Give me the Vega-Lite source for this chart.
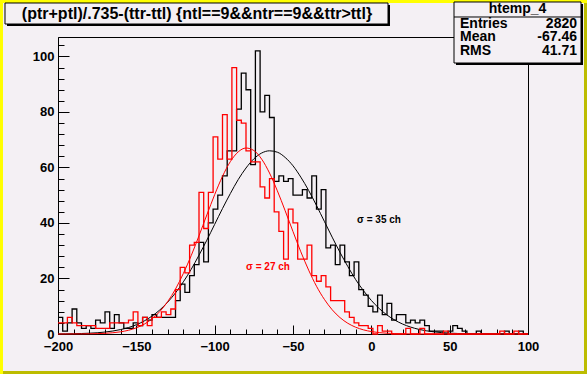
{
  "$schema": "https://vega.github.io/schema/vega-lite/v6.json",
  "width": 470,
  "height": 297,
  "autosize": {"type": "none"},
  "padding": {"left": 58, "top": 37, "right": 59, "bottom": 40},
  "background": "#f4f0f4",
  "config": {
    "view": {"stroke": "black", "strokeWidth": 1, "fill": null},
    "font": "Liberation Sans"
  },
  "datasets": {
    "hist": [
      {"x": -200, "black": 6, "red": 4}, {"x": -197, "black": 1, "red": 4}, {"x": -194, "black": 4, "red": 6}, {"x": -191, "black": 9, "red": 4},
      {"x": -188, "black": 4, "red": 3}, {"x": -185, "black": 2, "red": 3}, {"x": -182, "black": 3, "red": 3}, {"x": -179, "black": 2, "red": 3},
      {"x": -176, "black": 5, "red": 2}, {"x": -173, "black": 4, "red": 2}, {"x": -170, "black": 8, "red": 2}, {"x": -167, "black": 2, "red": 4},
      {"x": -164, "black": 7, "red": 4}, {"x": -161, "black": 4, "red": 4}, {"x": -158, "black": 2, "red": 4}, {"x": -155, "black": 2, "red": 5},
      {"x": -152, "black": 4, "red": 8}, {"x": -149, "black": 3, "red": 3}, {"x": -146, "black": 6, "red": 6}, {"x": -143, "black": 5, "red": 3},
      {"x": -140, "black": 7, "red": 6}, {"x": -137, "black": 6, "red": 6}, {"x": -134, "black": 6, "red": 8}, {"x": -131, "black": 6, "red": 7},
      {"x": -128, "black": 6, "red": 9}, {"x": -125, "black": 12, "red": 16}, {"x": -122, "black": 18, "red": 24}, {"x": -119, "black": 15, "red": 22},
      {"x": -116, "black": 21, "red": 32}, {"x": -113, "black": 25, "red": 33}, {"x": -110, "black": 33, "red": 51}, {"x": -107, "black": 26, "red": 38},
      {"x": -104, "black": 40, "red": 51}, {"x": -101, "black": 45, "red": 71}, {"x": -98, "black": 50, "red": 63}, {"x": -95, "black": 57, "red": 79},
      {"x": -92, "black": 66, "red": 63}, {"x": -89, "black": 66, "red": 96}, {"x": -86, "black": 81, "red": 77}, {"x": -83, "black": 94, "red": 76},
      {"x": -80, "black": 88, "red": 66}, {"x": -77, "black": 61, "red": 62}, {"x": -74, "black": 102, "red": 62}, {"x": -71, "black": 80, "red": 53},
      {"x": -68, "black": 86, "red": 49}, {"x": -65, "black": 78, "red": 56}, {"x": -62, "black": 55, "red": 44}, {"x": -59, "black": 57, "red": 37},
      {"x": -56, "black": 55, "red": 27}, {"x": -53, "black": 56, "red": 45}, {"x": -50, "black": 50, "red": 40}, {"x": -47, "black": 50, "red": 27},
      {"x": -44, "black": 52, "red": 27}, {"x": -41, "black": 49, "red": 32}, {"x": -38, "black": 57, "red": 21}, {"x": -35, "black": 45, "red": 19},
      {"x": -32, "black": 52, "red": 21}, {"x": -29, "black": 31, "red": 17}, {"x": -26, "black": 32, "red": 12}, {"x": -23, "black": 25, "red": 12},
      {"x": -20, "black": 32, "red": 12}, {"x": -17, "black": 26, "red": 8}, {"x": -14, "black": 21, "red": 6}, {"x": -11, "black": 26, "red": 4},
      {"x": -8, "black": 16, "red": 3}, {"x": -5, "black": 14, "red": 3}, {"x": -2, "black": 10, "red": 2}, {"x": 1, "black": 8, "red": 0},
      {"x": 4, "black": 14, "red": 3}, {"x": 7, "black": 7, "red": 1}, {"x": 10, "black": 11, "red": 1}, {"x": 13, "black": 5, "red": 0},
      {"x": 16, "black": 7, "red": 0}, {"x": 19, "black": 7, "red": 0}, {"x": 22, "black": 4, "red": 2}, {"x": 25, "black": 5, "red": 0},
      {"x": 28, "black": 4, "red": 0}, {"x": 31, "black": 5, "red": 2}, {"x": 34, "black": 3, "red": 0}, {"x": 37, "black": 1, "red": 0},
      {"x": 40, "black": 1, "red": 0}, {"x": 43, "black": 1, "red": 0}, {"x": 46, "black": 0, "red": 1}, {"x": 49, "black": 1, "red": 0},
      {"x": 52, "black": 3, "red": 0}, {"x": 55, "black": 2, "red": 0}, {"x": 58, "black": 1, "red": 0}, {"x": 61, "black": 0, "red": 0},
      {"x": 64, "black": 0, "red": 0}, {"x": 67, "black": 1, "red": 0}, {"x": 70, "black": 0, "red": 0}, {"x": 73, "black": 0, "red": 0},
      {"x": 76, "black": 0, "red": 0}, {"x": 79, "black": 0, "red": 0}, {"x": 82, "black": 0, "red": 1}, {"x": 85, "black": 1, "red": 0},
      {"x": 88, "black": 0, "red": 0}, {"x": 91, "black": 0, "red": 1}, {"x": 94, "black": 1, "red": 0}, {"x": 97, "black": 0, "red": 0},
      {"x": 100, "black": 0, "red": 0}
    ],
    "fit": [
      {"x": -200, "black": 0.04, "red": 0}, {"x": -195, "black": 0.06, "red": 0.01}, {"x": -190, "black": 0.11, "red": 0.02},
      {"x": -185, "black": 0.18, "red": 0.03}, {"x": -180, "black": 0.29, "red": 0.07}, {"x": -175, "black": 0.45, "red": 0.13},
      {"x": -170, "black": 0.7, "red": 0.24}, {"x": -165, "black": 1.07, "red": 0.45}, {"x": -160, "black": 1.6, "red": 0.79},
      {"x": -155, "black": 2.33, "red": 1.34}, {"x": -150, "black": 3.34, "red": 2.22}, {"x": -145, "black": 4.69, "red": 3.53},
      {"x": -140, "black": 6.45, "red": 5.45}, {"x": -135, "black": 8.68, "red": 8.1}, {"x": -130, "black": 11.46, "red": 11.66},
      {"x": -125, "black": 14.82, "red": 16.19}, {"x": -120, "black": 18.78, "red": 21.8}, {"x": -115, "black": 23.3, "red": 28.2},
      {"x": -110, "black": 28.4, "red": 35.4}, {"x": -105, "black": 33.8, "red": 42.9}, {"x": -100, "black": 39.5, "red": 50.2},
      {"x": -95, "black": 45.2, "red": 56.8}, {"x": -90, "black": 50.6, "red": 62.1}, {"x": -85, "black": 55.6, "red": 65.6},
      {"x": -80, "black": 59.8, "red": 67.0}, {"x": -75, "black": 63.1, "red": 66.1}, {"x": -70, "black": 65.2, "red": 63.0},
      {"x": -65, "black": 66.0, "red": 58.0}, {"x": -60, "black": 65.5, "red": 51.6}, {"x": -55, "black": 63.6, "red": 44.4},
      {"x": -50, "black": 60.6, "red": 36.9}, {"x": -45, "black": 56.5, "red": 29.6}, {"x": -40, "black": 51.7, "red": 23.0},
      {"x": -35, "black": 46.3, "red": 17.2}, {"x": -30, "black": 40.6, "red": 12.5}, {"x": -25, "black": 34.9, "red": 8.74},
      {"x": -20, "black": 29.4, "red": 5.91}, {"x": -15, "black": 24.3, "red": 3.86}, {"x": -10, "black": 19.6, "red": 2.44},
      {"x": -5, "black": 15.6, "red": 1.49}, {"x": 0, "black": 12.1, "red": 0.88}, {"x": 5, "black": 9.19, "red": 0.5},
      {"x": 10, "black": 6.85, "red": 0.28}, {"x": 15, "black": 5.0, "red": 0.15}, {"x": 20, "black": 3.58, "red": 0.08},
      {"x": 25, "black": 2.51, "red": 0.04}, {"x": 30, "black": 1.72, "red": 0.02}, {"x": 35, "black": 1.16, "red": 0.01},
      {"x": 40, "black": 0.77, "red": 0}, {"x": 45, "black": 0.49, "red": 0}, {"x": 50, "black": 0.31, "red": 0},
      {"x": 55, "black": 0.19, "red": 0}, {"x": 60, "black": 0.12, "red": 0}, {"x": 65, "black": 0.07, "red": 0},
      {"x": 70, "black": 0.04, "red": 0}, {"x": 75, "black": 0.02, "red": 0}, {"x": 80, "black": 0.01, "red": 0},
      {"x": 85, "black": 0.01, "red": 0}, {"x": 90, "black": 0, "red": 0}, {"x": 95, "black": 0, "red": 0}, {"x": 100, "black": 0, "red": 0}
    ],
    "stats": [
      {"label": "Entries", "value": "2820", "row": 111.86},
      {"label": "Mean", "value": "-67.46", "row": 106.82},
      {"label": "RMS", "value": "41.71", "row": 101.78}
    ]
  },
  "resolve": {"axis": {"x": "independent", "y": "independent"}},
  "layer": [
    {
      "data": {"values": [{}]},
      "mark": {"type": "rect", "color": "#ffff00"},
      "encoding": {
        "x": {"datum": -245, "type": "quantitative", "scale": {"domain": [-200, 100], "nice": false, "zero": false}, "axis": null},
        "x2": {"datum": -235.11},
        "y": {"datum": 130, "type": "quantitative", "scale": {"domain": [0, 107], "nice": false, "zero": false}, "axis": null},
        "y2": {"datum": -20}
      }
    },
    {
      "data": {"values": [{}]},
      "mark": {"type": "rect", "color": "#ffff00"},
      "encoding": {
        "x": {"datum": -245, "type": "quantitative", "scale": {"domain": [-200, 100], "nice": false, "zero": false}, "axis": null},
        "x2": {"datum": 140},
        "y": {"datum": 130, "type": "quantitative", "scale": {"domain": [0, 107], "nice": false, "zero": false}, "axis": null},
        "y2": {"datum": 119.25}
      }
    },
    {
      "data": {"values": [{}]},
      "mark": {"type": "rect", "color": "#bcbc00"},
      "encoding": {
        "x": {"datum": 135.74, "type": "quantitative", "scale": {"domain": [-200, 100], "nice": false, "zero": false}, "axis": null},
        "x2": {"datum": 145},
        "y": {"datum": 119.25, "type": "quantitative", "scale": {"domain": [0, 107], "nice": false, "zero": false}, "axis": null},
        "y2": {"datum": -20}
      }
    },
    {
      "data": {"values": [{}]},
      "mark": {"type": "rect", "color": "#bcbc00"},
      "encoding": {
        "x": {"datum": -235.11, "type": "quantitative", "scale": {"domain": [-200, 100], "nice": false, "zero": false}, "axis": null},
        "x2": {"datum": 145},
        "y": {"datum": -13.33, "type": "quantitative", "scale": {"domain": [0, 107], "nice": false, "zero": false}, "axis": null},
        "y2": {"datum": -20}
      }
    },
    {
      "data": {"name": "hist"},
      "mark": {"type": "line", "interpolate": "step-after", "color": "black", "strokeWidth": 1.3},
      "encoding": {
        "x": {"field": "x", "type": "quantitative", "scale": {"domain": [-200, 100], "nice": false, "zero": false},
          "axis": {"values": [-200, -150, -100, -50, 0, 50, 100], "orient": "bottom", "tickSize": -9, "labelPadding": 15, "labelFont": "Liberation Sans", "labelFontWeight": "bold", "labelFontSize": 13, "labelColor": "black", "tickColor": "black", "domainColor": "black", "grid": false, "title": null, "labelFlush": false, "labelOverlap": false}},
        "y": {"field": "black", "type": "quantitative", "scale": {"domain": [0, 107], "nice": false, "zero": false},
          "axis": {"values": [0, 20, 40, 60, 80, 100], "orient": "left", "tickSize": -11, "labelPadding": 15, "labelFont": "Liberation Sans", "labelFontWeight": "bold", "labelFontSize": 13, "labelColor": "black", "tickColor": "black", "domainColor": "black", "grid": false, "title": null, "labelFlush": false, "labelOverlap": false}}
      }
    },
    {
      "data": {"name": "fit"},
      "mark": {"type": "line", "interpolate": "monotone", "color": "black", "strokeWidth": 1},
      "encoding": {
        "x": {"field": "x", "type": "quantitative", "scale": {"domain": [-200, 100], "nice": false, "zero": false}, "axis": null},
        "y": {"field": "black", "type": "quantitative", "scale": {"domain": [0, 107], "nice": false, "zero": false}, "axis": null}
      }
    },
    {
      "data": {"name": "hist"},
      "mark": {"type": "line", "interpolate": "step-after", "color": "#ff0000", "strokeWidth": 1.3},
      "encoding": {
        "x": {"field": "x", "type": "quantitative", "scale": {"domain": [-200, 100], "nice": false, "zero": false},
          "axis": {"values": [-190, -180, -170, -160, -140, -130, -120, -110, -90, -80, -70, -60, -40, -30, -20, -10, 10, 20, 30, 40, 60, 70, 80, 90], "orient": "bottom", "tickSize": -5, "labels": false, "domain": false, "tickColor": "black", "grid": false, "title": null}},
        "y": {"field": "red", "type": "quantitative", "scale": {"domain": [0, 107], "nice": false, "zero": false},
          "axis": {"values": [4, 8, 12, 16, 24, 28, 32, 36, 44, 48, 52, 56, 64, 68, 72, 76, 84, 88, 92, 96, 104], "orient": "left", "tickSize": -6, "labels": false, "domain": false, "tickColor": "black", "grid": false, "title": null}}
      }
    },
    {
      "data": {"name": "fit"},
      "mark": {"type": "line", "interpolate": "monotone", "color": "#ff0000", "strokeWidth": 1},
      "encoding": {
        "x": {"field": "x", "type": "quantitative", "scale": {"domain": [-200, 100], "nice": false, "zero": false}, "axis": null},
        "y": {"field": "red", "type": "quantitative", "scale": {"domain": [0, 107], "nice": false, "zero": false}, "axis": null}
      }
    },
    {
      "data": {"values": [{"t": "σ = 35 ch", "x": 4.9, "y": 41.07, "c": "black"}, {"t": "σ = 27 ch", "x": -65.96, "y": 24.14, "c": "red"}]},
      "mark": {"type": "text", "font": "Liberation Sans", "fontWeight": "bold", "fontSize": 10, "align": "center", "baseline": "middle"},
      "encoding": {
        "x": {"field": "x", "type": "quantitative", "scale": {"domain": [-200, 100], "nice": false, "zero": false}, "axis": null},
        "y": {"field": "y", "type": "quantitative", "scale": {"domain": [0, 107], "nice": false, "zero": false}, "axis": null},
        "text": {"field": "t"},
        "color": {"field": "c", "type": "nominal", "scale": {"domain": ["black", "red"], "range": ["#000000", "#ff0000"]}, "legend": null}
      }
    },
    {
      "data": {"values": [{}]},
      "mark": {"type": "rect", "color": "black"},
      "encoding": {
        "x": {"datum": -232.55, "type": "quantitative", "scale": {"domain": [-200, 100], "nice": false, "zero": false}, "axis": null},
        "x2": {"datum": 11.91},
        "y": {"datum": 118.53, "type": "quantitative", "scale": {"domain": [0, 107], "nice": false, "zero": false}, "axis": null},
        "y2": {"datum": 110.96}
      }
    },
    {
      "data": {"values": [{}]},
      "mark": {"type": "rect", "fill": "#f4f0f4", "stroke": "black", "strokeWidth": 1},
      "encoding": {
        "x": {"datum": -233.83, "type": "quantitative", "scale": {"domain": [-200, 100], "nice": false, "zero": false}, "axis": null},
        "x2": {"datum": 10.64},
        "y": {"datum": 119.25, "type": "quantitative", "scale": {"domain": [0, 107], "nice": false, "zero": false}, "axis": null},
        "y2": {"datum": 111.68}
      }
    },
    {
      "data": {"values": [{"t": "(ptr+ptl)/.735-(ttr-ttl) {ntl==9&&ntr==9&&ttr>ttl}"}]},
      "mark": {"type": "text", "font": "Liberation Sans", "fontWeight": "bold", "fontSize": 16, "align": "center", "baseline": "middle", "color": "black"},
      "encoding": {
        "x": {"datum": -111.28, "type": "quantitative", "scale": {"domain": [-200, 100], "nice": false, "zero": false}, "axis": null},
        "y": {"datum": 115.29, "type": "quantitative", "scale": {"domain": [0, 107], "nice": false, "zero": false}, "axis": null},
        "text": {"field": "t"}
      }
    },
    {
      "data": {"values": [{}]},
      "mark": {"type": "rect", "color": "black"},
      "encoding": {
        "x": {"datum": 54.04, "type": "quantitative", "scale": {"domain": [-200, 100], "nice": false, "zero": false}, "axis": null},
        "x2": {"datum": 135.11},
        "y": {"datum": 118.89, "type": "quantitative", "scale": {"domain": [0, 107], "nice": false, "zero": false}, "axis": null},
        "y2": {"datum": 96.91}
      }
    },
    {
      "data": {"values": [{}]},
      "mark": {"type": "rect", "fill": "#f4f0f4", "stroke": "black", "strokeWidth": 1},
      "encoding": {
        "x": {"datum": 52.77, "type": "quantitative", "scale": {"domain": [-200, 100], "nice": false, "zero": false}, "axis": null},
        "x2": {"datum": 133.83},
        "y": {"datum": 119.61, "type": "quantitative", "scale": {"domain": [0, 107], "nice": false, "zero": false}, "axis": null},
        "y2": {"datum": 97.63}
      }
    },
    {
      "data": {"values": [{}]},
      "mark": {"type": "rule", "color": "black", "strokeWidth": 1},
      "encoding": {
        "x": {"datum": 52.77, "type": "quantitative", "scale": {"domain": [-200, 100], "nice": false, "zero": false}, "axis": null},
        "x2": {"datum": 133.83},
        "y": {"datum": 114.21, "type": "quantitative", "scale": {"domain": [0, 107], "nice": false, "zero": false}, "axis": null}
      }
    },
    {
      "data": {"values": [{"t": "htemp_4"}]},
      "mark": {"type": "text", "font": "Liberation Sans", "fontWeight": "bold", "fontSize": 14, "align": "center", "baseline": "middle", "color": "black"},
      "encoding": {
        "x": {"datum": 93.3, "type": "quantitative", "scale": {"domain": [-200, 100], "nice": false, "zero": false}, "axis": null},
        "y": {"datum": 116.91, "type": "quantitative", "scale": {"domain": [0, 107], "nice": false, "zero": false}, "axis": null},
        "text": {"field": "t"}
      }
    },
    {
      "data": {"name": "stats"},
      "mark": {"type": "text", "font": "Liberation Sans", "fontWeight": "bold", "fontSize": 14, "align": "left", "baseline": "middle", "color": "black"},
      "encoding": {
        "x": {"datum": 56.6, "type": "quantitative", "scale": {"domain": [-200, 100], "nice": false, "zero": false}, "axis": null},
        "y": {"field": "row", "type": "quantitative", "scale": {"domain": [0, 107], "nice": false, "zero": false}, "axis": null},
        "text": {"field": "label"}
      }
    },
    {
      "data": {"name": "stats"},
      "mark": {"type": "text", "font": "Liberation Sans", "fontWeight": "bold", "fontSize": 14, "align": "right", "baseline": "middle", "color": "black"},
      "encoding": {
        "x": {"datum": 131.28, "type": "quantitative", "scale": {"domain": [-200, 100], "nice": false, "zero": false}, "axis": null},
        "y": {"field": "row", "type": "quantitative", "scale": {"domain": [0, 107], "nice": false, "zero": false}, "axis": null},
        "text": {"field": "value"}
      }
    }
  ]
}
